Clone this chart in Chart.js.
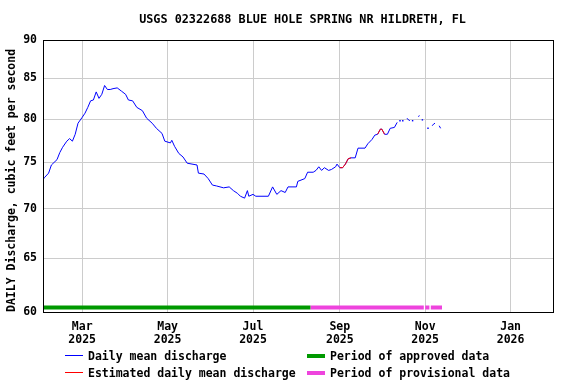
<!DOCTYPE html>
<html>
<head>
<meta charset="utf-8">
<script src="https://cdn.jsdelivr.net/npm/chart.js@4.4.1/dist/chart.umd.min.js"></script>
<style>
  html, body { margin: 0; padding: 0; background: #fff; }
  #wrap { position: relative; width: 576px; height: 384px; overflow: hidden; }
  canvas { position: absolute; left: 0; top: 0; }
  .lgt { position: absolute; font-family: "DejaVu Sans Mono", monospace; font-weight: bold; font-size: 11.5px; line-height: 14px; color: #000; white-space: nowrap; }
  .lgs { position: absolute; }
  #title { position: absolute; left: 47px; width: 511px; top: 12px; text-align: center; font-family: "DejaVu Sans Mono", monospace; font-weight: bold; font-size: 11.8px; line-height: 14px; color: #000; white-space: nowrap; }
</style>
</head>
<body>
<div id="wrap">
  <canvas id="c" width="576" height="384"></canvas>
  <div id="title"></div>
  <div class="lgs" style="left:65px;top:355px;width:18px;height:1px;background:#0000ff"></div>
  <div class="lgt" style="left:88px;top:349px">Daily mean discharge</div>
  <div class="lgs" style="left:65px;top:372px;width:18px;height:1px;background:#ff0000"></div>
  <div class="lgt" style="left:88px;top:366px">Estimated daily mean discharge</div>
  <div class="lgs" style="left:307px;top:354px;width:18px;height:4px;background:#009900"></div>
  <div class="lgt" style="left:330px;top:349px">Period of approved data</div>
  <div class="lgs" style="left:307px;top:371px;width:18px;height:4px;background:#ee44dd"></div>
  <div class="lgt" style="left:330px;top:366px">Period of provisional data</div>
</div>
<script>
// ---------- data ----------
const chartTitle = "USGS 02322688 BLUE HOLE SPRING NR HILDRETH, FL";
const yAxisTitle = "DAILY Discharge, cubic feet per second";
const startDate = "2025-02-01";
const endDate = "2026-02-01";
const yTicks = [60, 65, 70, 75, 80, 85, 90];
const xTickDates = ["2025-03-01", "2025-05-01", "2025-07-01", "2025-09-01", "2025-11-01", "2026-01-01"];
const xTickLabels = [["Mar", "2025"], ["May", "2025"], ["Jul", "2025"], ["Sep", "2025"], ["Nov", "2025"], ["Jan", "2026"]];

const dates = [
  "2025-02-01","2025-02-02","2025-02-05","2025-02-07","2025-02-11","2025-02-13","2025-02-15","2025-02-18",
  "2025-02-20","2025-02-22","2025-02-24","2025-02-26","2025-03-01","2025-03-03","2025-03-05","2025-03-07",
  "2025-03-09","2025-03-11","2025-03-13","2025-03-15","2025-03-17","2025-03-19","2025-03-21","2025-03-23",
  "2025-03-26","2025-03-29","2025-04-01","2025-04-03","2025-04-06","2025-04-09","2025-04-13","2025-04-16",
  "2025-04-20","2025-04-23","2025-04-27","2025-04-29","2025-05-03","2025-05-04","2025-05-06","2025-05-09",
  "2025-05-12","2025-05-15","2025-05-22","2025-05-23","2025-05-27","2025-05-30","2025-06-02","2025-06-05",
  "2025-06-10","2025-06-14","2025-06-17","2025-06-20","2025-06-22","2025-06-25","2025-06-27","2025-06-28",
  "2025-07-01","2025-07-03","2025-07-12","2025-07-15","2025-07-18","2025-07-21","2025-07-24","2025-07-26",
  "2025-08-01","2025-08-02","2025-08-07","2025-08-09","2025-08-13","2025-08-15","2025-08-17","2025-08-19",
  "2025-08-21","2025-08-24","2025-08-26","2025-08-29","2025-08-30","2025-09-01","2025-09-03","2025-09-05",
  "2025-09-07","2025-09-09","2025-09-12","2025-09-14","2025-09-19","2025-09-21","2025-09-24","2025-09-26",
  "2025-09-28","2025-09-30","2025-10-01","2025-10-03","2025-10-05","2025-10-07","2025-10-10","2025-10-12",
  "2025-10-13","2025-10-14","2025-10-15","2025-10-16","2025-10-17","2025-10-19","2025-10-20","2025-10-21",
  "2025-10-22","2025-10-23","2025-10-24","2025-10-27","2025-10-28","2025-10-29","2025-10-30","2025-10-31",
  "2025-11-03","2025-11-04","2025-11-06","2025-11-07","2025-11-08","2025-11-09","2025-11-11","2025-11-12"
];
const discharge = [
  73.1,73.3,73.8,74.7,75.3,76.1,76.7,77.4,
  77.7,77.4,78.2,79.5,80.2,80.7,81.4,82.2,
  82.3,83.3,82.5,83.0,84.1,83.6,83.6,83.7,
  83.8,83.4,83.0,82.3,82.2,81.4,81.0,80.1,
  79.5,78.9,78.3,77.4,77.2,77.5,76.8,76.0,
  75.6,74.9,74.7,73.8,73.7,73.2,72.5,72.4,
  72.2,72.3,71.9,71.6,71.3,71.1,71.9,71.3,
  71.5,71.3,71.3,72.3,71.5,71.9,71.7,72.3,
  72.3,72.9,73.2,73.9,73.9,74.1,74.5,74.1,
  74.4,74.1,74.2,74.5,74.8,74.4,74.4,74.8,
  75.4,75.5,75.5,76.6,76.6,77.1,77.6,78.1,
  78.2,78.8,78.8,78.2,78.2,78.9,79.0,79.6,
  null,79.8,null,79.8,null,80.1,79.9,79.8,
  null,79.8,null,80.3,80.4,null,79.9,null,
  78.9,null,79.2,79.4,79.5,null,79.2,78.9
];
const estimatedRanges = [["2025-09-01", "2025-09-09"], ["2025-09-28", "2025-10-03"]];
const approvedPeriods = [["2025-02-01", "2025-08-11"]];
const provisionalPeriods = [["2025-08-11", "2025-10-31"], ["2025-11-01", "2025-11-04"], ["2025-11-05", "2025-11-13"]];
const periodBarLevel = 60.4;

document.getElementById("title").textContent = chartTitle;

// ---------- helpers ----------
function dayNum(s) {
  const p = s.split("-").map(Number);
  const b = startDate.split("-").map(Number);
  return (Date.UTC(p[0], p[1] - 1, p[2]) - Date.UTC(b[0], b[1] - 1, b[2])) / 86400000;
}
const mainPts = dates.map((d, i) => ({ x: dayNum(d), y: discharge[i] }));
const estPts = dates.map((d, i) => {
  const inR = estimatedRanges.some(r => d >= r[0] && d <= r[1]);
  return { x: dayNum(d), y: inR ? discharge[i] : null };
});
function periodPts(periods) {
  const out = [];
  periods.forEach((p, i) => {
    if (i > 0) out.push({ x: dayNum(p[0]) - 0.01, y: null });
    out.push({ x: dayNum(p[0]), y: periodBarLevel });
    out.push({ x: dayNum(p[1]), y: periodBarLevel });
  });
  return out;
}
function isolatedRadius(ctx) {
  const data = ctx.dataset.data;
  const i = ctx.dataIndex;
  const v = data[i];
  if (!v || v.y === null) return 0;
  const prev = i > 0 ? data[i - 1].y : null;
  const next = i < data.length - 1 ? data[i + 1].y : null;
  return (prev === null && next === null) ? 1 : 0;
}

const FONT = "'DejaVu Sans Mono', monospace";

const frame = {
  id: "frame",
  afterDraw(chart) {
    const a = chart.chartArea, c = chart.ctx;
    c.save();
    c.strokeStyle = "#000";
    c.lineWidth = 1;
    c.strokeRect(Math.round(a.left) + 0.5, Math.round(a.top) + 0.5, Math.round(a.right - a.left) - 1, Math.round(a.bottom - a.top));
    c.restore();
  }
};

new Chart(document.getElementById("c"), {
  type: "line",
  data: {
    datasets: [
      { label: "Estimated daily mean discharge", data: estPts, borderColor: "#ff0000", borderWidth: 1,
        pointRadius: 0, spanGaps: false, order: 0, tension: 0 },
      { label: "Daily mean discharge", data: mainPts, borderColor: "#0000ff", backgroundColor: "#0000ff", borderWidth: 1,
        pointRadius: isolatedRadius, pointStyle: "rect", pointBorderWidth: 0, spanGaps: false, order: 1, tension: 0 },
      { label: "Period of approved data", data: periodPts(approvedPeriods), borderColor: "#009900", borderWidth: 4,
        borderCapStyle: "butt", pointRadius: 0, spanGaps: false, order: 2 },
      { label: "Period of provisional data", data: periodPts(provisionalPeriods), borderColor: "#ee44dd", borderWidth: 4,
        borderCapStyle: "butt", pointRadius: 0, spanGaps: false, order: 2 }
    ]
  },
  options: {
    responsive: false,
    animation: false,
    devicePixelRatio: 1,
    parsing: false,
    layout: { padding: { left: 0, right: 22, top: 40, bottom: 0 } },
    plugins: {
      legend: { display: false },
      tooltip: { enabled: false },
      title: { display: false }
    },
    scales: {
      x: {
        type: "linear",
        min: dayNum(startDate), max: dayNum(endDate),
        afterBuildTicks(s) { s.ticks = xTickDates.map(d => ({ value: dayNum(d) })); },
        afterFit(s) { s.height = 72; },
        grid: { color: "#cccccc", lineWidth: 1, drawTicks: false },
        border: { display: false },
        ticks: {
          autoSkip: false, maxRotation: 0, padding: 9, color: "#000",
          font: { family: FONT, size: 11.5, weight: "bold", lineHeight: 1.13 },
          callback: (v, i) => xTickLabels[i]
        }
      },
      y: {
        type: "logarithmic",
        min: 60, max: 90,
        afterBuildTicks(s) { s.ticks = yTicks.map(v => ({ value: v })); },
        afterFit(s) { s.width = 43; },
        grid: { color: "#cccccc", lineWidth: 1, drawTicks: false },
        border: { display: false },
        ticks: {
          padding: 6, color: "#000",
          font: { family: FONT, size: 11.5, weight: "bold" },
          callback: v => String(v)
        },
        title: {
          display: true, text: yAxisTitle, color: "#000", align: "start",
          font: { family: FONT, size: 11.5, weight: "bold", lineHeight: 1.2 },
          padding: { top: 5, bottom: 0 }
        }
      }
    }
  },
  plugins: [frame]
});
</script>
</body>
</html>
